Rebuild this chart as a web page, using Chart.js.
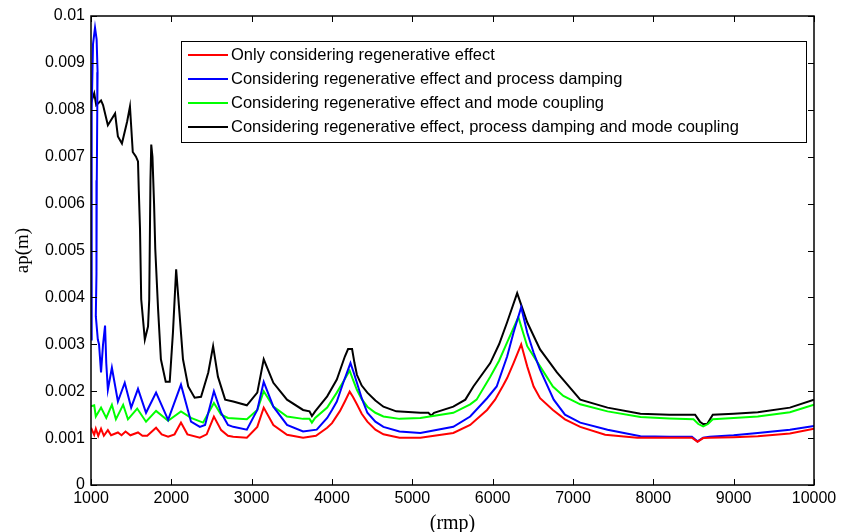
<!DOCTYPE html>
<html>
<head>
<meta charset="utf-8">
<script src="https://cdn.jsdelivr.net/npm/chart.js@4/dist/chart.umd.min.js"></script>
<style>
  html, body { margin: 0; padding: 0; background: #fff; }
  #wrap { width: 854px; height: 532px; position: relative; }
</style>
</head>
<body>
<div id="wrap"><canvas id="apChart"></canvas></div>
<script>
/* stability lobes: ap limit vs spindle speed, four models */

const seriesLabels = [
  'Only considering regenerative effect',
  'Considering regenerative effect and process damping',
  'Considering regenerative effect and mode coupling',
  'Considering regenerative effect, process damping and mode coupling'
];
const seriesColors = ['#ff0000', '#0000ff', '#00ff00', '#000000'];

const redRpm = [1000,1040,1060,1090,1125,1160,1210,1250,1335,1380,1430,1490,1585,1640,1700,1810,1880,1960,2040,2120,2200,2355,2440,2530,2620,2705,2770,2940,3070,3150,3270,3440,3640,3800,3940,4000,4100,4160,4220,4260,4310,4370,4440,4540,4640,4840,5100,5510,5720,5930,6030,6130,6180,6260,6355,6430,6510,6590,6750,6900,7090,7400,7800,8200,8480,8550,8620,8700,9000,9300,9700,10000];
const redAp = [0.00122,0.00107,0.0012,0.00105,0.0012,0.00105,0.00117,0.00106,0.00112,0.00106,0.00114,0.00106,0.00112,0.00105,0.00105,0.00122,0.00108,0.00103,0.00108,0.00133,0.00108,0.00101,0.00108,0.00146,0.00117,0.00105,0.00103,0.00101,0.00124,0.00165,0.00128,0.00107,0.00101,0.00105,0.00122,0.00132,0.00158,0.00178,0.00199,0.00188,0.00172,0.00152,0.00135,0.00118,0.00108,0.00101,0.00101,0.00111,0.00128,0.0016,0.00182,0.00212,0.00228,0.0026,0.003,0.00253,0.0021,0.00185,0.0016,0.0014,0.00124,0.00107,0.00101,0.00101,0.00101,0.00092,0.001,0.00101,0.00102,0.00104,0.0011,0.0012];

const blueRpm = [1000,1005,1012,1025,1050,1070,1082,1078,1072,1068,1060,1085,1100,1125,1150,1175,1190,1210,1260,1335,1420,1500,1585,1685,1810,1960,2120,2245,2355,2420,2530,2620,2705,2770,2940,3070,3150,3270,3440,3640,3810,3940,4000,4060,4140,4230,4270,4310,4370,4440,4540,4640,4840,5100,5510,5720,5930,6050,6180,6260,6355,6430,6510,6590,6760,6900,7090,7430,7840,8200,8480,8550,8620,8700,9000,9300,9700,10000];
const blueAp = [0.0031,0.005,0.008,0.0094,0.00975,0.0095,0.0088,0.008,0.0065,0.0045,0.0036,0.0031,0.003,0.0024,0.003,0.0034,0.0026,0.00203,0.0025,0.00178,0.00218,0.00165,0.00205,0.00154,0.00197,0.00139,0.00214,0.00135,0.00124,0.00128,0.002,0.00154,0.00128,0.00124,0.00118,0.0016,0.0022,0.00167,0.00128,0.00114,0.00118,0.00143,0.0016,0.00178,0.00218,0.0026,0.0024,0.00218,0.00185,0.00154,0.00135,0.00124,0.00114,0.00111,0.00124,0.00146,0.00185,0.0021,0.00274,0.00325,0.00379,0.00325,0.00282,0.00246,0.00182,0.0015,0.00133,0.00118,0.00104,0.00103,0.00103,0.00093,0.00101,0.00103,0.00106,0.00111,0.00118,0.00126];

const greenRpm = [1000,1040,1060,1125,1190,1260,1310,1400,1460,1575,1685,1810,1960,2120,2245,2395,2530,2620,2705,2940,3070,3150,3270,3440,3640,3720,3750,3790,3940,4060,4140,4220,4260,4310,4370,4440,4540,4640,4840,5100,5510,5720,5800,5970,6080,6180,6320,6430,6590,6750,6880,7090,7430,7840,8200,8500,8560,8620,8680,8740,9000,9300,9700,10000];
const greenAp = [0.00168,0.0017,0.00146,0.00165,0.00143,0.00171,0.0014,0.00171,0.0014,0.00163,0.00135,0.00158,0.00137,0.00157,0.00143,0.00133,0.00175,0.0015,0.00143,0.0014,0.0016,0.002,0.00167,0.00146,0.00141,0.00141,0.00133,0.00143,0.00165,0.00197,0.0022,0.00244,0.00225,0.00203,0.00183,0.00167,0.00154,0.00146,0.00141,0.00143,0.00154,0.00172,0.00182,0.00231,0.00265,0.00304,0.00358,0.00296,0.00253,0.0021,0.0019,0.00172,0.00157,0.00145,0.00142,0.0014,0.0013,0.00125,0.0013,0.0014,0.00143,0.00146,0.00155,0.00171];

const blackRpm = [1000,1040,1065,1125,1150,1210,1300,1335,1385,1450,1485,1520,1560,1585,1595,1610,1625,1670,1710,1725,1740,1750,1765,1785,1800,1835,1870,1930,1980,2020,2060,2095,2145,2210,2290,2370,2460,2520,2580,2670,2770,2940,3070,3150,3270,3440,3640,3720,3750,3790,3940,4060,4160,4200,4250,4280,4310,4370,4440,4540,4640,4800,5100,5200,5235,5270,5510,5660,5760,5970,6080,6180,6305,6430,6590,6800,7090,7430,7840,8200,8520,8580,8620,8670,8740,9000,9300,9700,10000];
const blackAp = [0.00815,0.00835,0.0081,0.0082,0.0081,0.00767,0.00792,0.00743,0.00728,0.00775,0.00807,0.0071,0.007,0.0069,0.00628,0.00546,0.00396,0.0031,0.00338,0.00396,0.0065,0.00726,0.007,0.006,0.00503,0.00375,0.00268,0.0022,0.0022,0.00325,0.0046,0.00381,0.00268,0.0021,0.00186,0.00188,0.0024,0.00296,0.00231,0.00182,0.00178,0.0017,0.00197,0.00268,0.00218,0.00182,0.0016,0.00157,0.00147,0.00157,0.00189,0.00225,0.00274,0.0029,0.0029,0.0026,0.00235,0.00212,0.00197,0.0018,0.00167,0.00157,0.00154,0.00154,0.00148,0.00154,0.00167,0.00182,0.0021,0.0026,0.003,0.00347,0.00409,0.00347,0.00289,0.0024,0.00182,0.00165,0.00152,0.0015,0.0015,0.00135,0.0013,0.0013,0.0015,0.00152,0.00155,0.00165,0.00182];

const rpmTicks = [1000, 2000, 3000, 4000, 5000, 6000, 7000, 8000, 9000, 10000];
const apTicks = [0, 0.001, 0.002, 0.003, 0.004, 0.005, 0.006, 0.007, 0.008, 0.009, 0.01];

function toPoints(xs, ys) {
  return xs.map((x, i) => ({ x: x, y: ys[i] }));
}

const curves = [[redRpm, redAp], [blueRpm, blueAp], [greenRpm, greenAp], [blackRpm, blackAp]];

// matlab style frame with inward ticks on all four sides
const framePlugin = {
  id: 'frame',
  afterDatasetsDraw(chart) {
    const c = chart.ctx, a = chart.chartArea;
    const xs = chart.scales.x, ys = chart.scales.y;
    const len = 6;
    c.save();
    c.strokeStyle = '#000';
    c.lineWidth = 1;
    c.beginPath();
    rpmTicks.forEach(v => {
      const px = Math.round(xs.getPixelForValue(v)) + 0.5;
      c.moveTo(px, a.bottom); c.lineTo(px, a.bottom - len);
      c.moveTo(px, a.top); c.lineTo(px, a.top + len);
    });
    apTicks.forEach(v => {
      const py = Math.round(ys.getPixelForValue(v)) + 0.5;
      c.moveTo(a.left, py); c.lineTo(a.left + len, py);
      c.moveTo(a.right, py); c.lineTo(a.right - len, py);
    });
    c.stroke();
    c.lineWidth = 1.5;
    c.strokeRect(a.left, a.top, a.right - a.left, a.bottom - a.top);
    c.restore();
  }
};

// boxed legend inside the axes, top right
const boxLegend = {
  id: 'boxLegend',
  afterDraw(chart) {
    const c = chart.ctx, a = chart.chartArea;
    const x0 = a.left + 90, y0 = a.top + 25;
    const w = 625, h = 101, row = 24;
    c.save();
    c.fillStyle = '#fff';
    c.fillRect(x0, y0, w, h);
    c.strokeStyle = '#000';
    c.lineWidth = 1;
    c.strokeRect(x0 + 0.5, y0 + 0.5, w, h);
    c.font = '16.5px "Liberation Sans", Arial, sans-serif';
    c.textBaseline = 'middle';
    chart.data.datasets.forEach((ds, i) => {
      const yy = y0 + 14 + i * row;
      c.strokeStyle = ds.borderColor;
      c.lineWidth = 2;
      c.beginPath();
      c.moveTo(x0 + 7, yy); c.lineTo(x0 + 47, yy);
      c.stroke();
      c.fillStyle = '#000';
      c.fillText(ds.label, x0 + 50, yy);
    });
    c.restore();
  }
};

const ctx = document.getElementById('apChart');
new Chart(ctx, {
  type: 'line',
  data: {
    datasets: curves.map((cv, i) => ({
      label: seriesLabels[i],
      data: toPoints(cv[0], cv[1]),
      borderColor: seriesColors[i],
      borderWidth: 2,
      pointRadius: 0,
      tension: 0,
      fill: false
    }))
  },
  options: {
    responsive: true,
    maintainAspectRatio: false,
    animation: false,
    events: [],
    layout: { padding: { top: 16, right: 40, left: 0, bottom: 0 } },
    plugins: {
      legend: { display: false },
      tooltip: { enabled: false }
    },
    scales: {
      x: {
        type: 'linear',
        min: 1000,
        max: 10000,
        afterFit(s) { s.height = 47; },
        afterBuildTicks(s) { s.ticks = rpmTicks.map(v => ({ value: v })); },
        grid: { display: false, drawTicks: false },
        border: { display: false },
        ticks: {
          padding: 4,
          color: '#000',
          font: { family: '"Liberation Sans", Arial, sans-serif', size: 16 },
          maxRotation: 0,
          autoSkip: false,
          callback: v => String(v)
        },
        title: {
          display: true,
          text: '(rmp)',
          color: '#000',
          padding: { top: 0, bottom: -4 },
          font: { family: '"Liberation Serif", "Times New Roman", serif', size: 20 }
        }
      },
      y: {
        min: 0,
        max: 0.01,
        afterFit(s) { s.width = 91; },
        afterBuildTicks(s) { s.ticks = apTicks.map(v => ({ value: v })); },
        grid: { display: false, drawTicks: false },
        border: { display: false },
        ticks: {
          padding: 6,
          color: '#000',
          font: { family: '"Liberation Sans", Arial, sans-serif', size: 16 },
          autoSkip: false,
          callback: v => (v === 0 ? '0' : String(+v.toFixed(3)))
        },
        title: {
          display: true,
          text: 'ap(m)',
          color: '#000',
          padding: { top: 12, bottom: 0 },
          font: { family: '"Liberation Serif", "Times New Roman", serif', size: 19 }
        }
      }
    }
  },
  plugins: [framePlugin, boxLegend]
});
</script>
</body>
</html>
